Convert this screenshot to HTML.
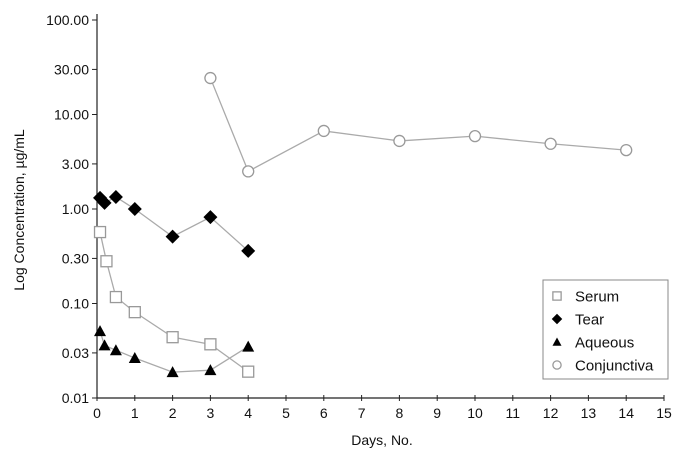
<!DOCTYPE html>
<html><head><meta charset="utf-8"><style>
body{margin:0;background:#fff;}
svg text{font-family:"Liberation Sans",Arial,sans-serif;fill:#111;}
svg text.lg{font-family:"Liberation Sans Narrow","Liberation Sans",Arial,sans-serif;}
</style></head><body>
<svg id="chart" width="682" height="462" viewBox="0 0 682 462" xmlns="http://www.w3.org/2000/svg"></svg>
<script>
const xTicks=[0,1,2,3,4,5,6,7,8,9,10,11,12,13,14,15];
const yTicks=[100,30,10,3,1,0.3,0.1,0.03,0.01];
const yTickLabels=["100.00","30.00","10.00","3.00","1.00","0.30","0.10","0.03","0.01"];
const serumX=[0.08,0.25,0.5,1,2,3,4];
const serumY=[0.57,0.28,0.117,0.081,0.044,0.037,0.019];
const tearX=[0.08,0.2,0.5,1,2,3,4];
const tearY=[1.31,1.16,1.34,1.0,0.51,0.82,0.36];
const aqueousX=[0.08,0.2,0.5,1,2,3,4];
const aqueousY=[0.051,0.036,0.032,0.0265,0.0188,0.0197,0.035];
const conjX=[3,4,6,8,10,12,14];
const conjY=[24.3,2.5,6.7,5.25,5.9,4.9,4.2];
const legendLabels=["Serum","Tear","Aqueous","Conjunctiva"];

const svg=document.getElementById('chart');
const NS='http://www.w3.org/2000/svg';
const X0=97,XS=37.8,YB=398,YD=94.5;
function sx(v){return X0+v*XS;}
function sy(v){return YB-YD*(Math.log10(v)+2);}
function mk(tag,attrs,parent){const e=document.createElementNS(NS,tag);for(const k in attrs)e.setAttribute(k,attrs[k]);(parent||svg).appendChild(e);return e;}

const ax=mk('path',{d:`M${X0} 14 V${YB} H${sx(15)}`,stroke:'#222','stroke-width':1.2,fill:'none'});


xTicks.forEach(t=>{
  const l=mk('line',{x1:sx(t),x2:sx(t),y1:YB-3,y2:YB+3,stroke:'#222'});
  
  
  const tx=mk('text',{x:sx(t),y:YB+20,'text-anchor':'middle','font-size':14});
  tx.textContent=t;
  
  
});
yTicks.forEach((t,i)=>{
  const l=mk('line',{x1:X0-5,x2:X0,y1:sy(t),y2:sy(t),stroke:'#222'});
  
  
  const tx=mk('text',{x:X0-8,y:sy(t)+5,'text-anchor':'end','font-size':14});
  tx.textContent=yTickLabels[i];
  
  
});
const xt=mk('text',{x:382,y:445,'text-anchor':'middle','font-size':14});
xt.textContent='Days, No.';


const yt=mk('text',{x:0,y:0,'text-anchor':'middle','font-size':14,transform:'translate(24,210) rotate(-90)'});
yt.textContent='Log Concentration, µg/mL';



function marker(kind,x,y,g,s){
  s=s||1;
  if(kind==='sq')return mk('rect',{x:x-5.5*s,y:y-5.5*s,width:11*s,height:11*s,fill:'#fff',stroke:'#999','stroke-width':1.3},g);
  if(kind==='dia')return mk('path',{d:`M${x} ${y-7*s} L${x+7*s} ${y} L${x} ${y+7*s} L${x-7*s} ${y}Z`,fill:'#000'},g);
  if(kind==='tri')return mk('path',{d:`M${x} ${y-6*s} L${x+6*s} ${y+5*s} L${x-6*s} ${y+5*s}Z`,fill:'#000'},g);
  return mk('circle',{cx:x,cy:y,r:5.5*s,fill:'#fff',stroke:'#999','stroke-width':1.3},g);
}
function series(name,xs,ys,kind){
  const g=mk('g',{});
  
  
  const p=mk('polyline',{points:xs.map((x,i)=>sx(x)+','+sy(ys[i])).join(' '),fill:'none',stroke:'#aaa','stroke-width':1.3},g);
  
  
  xs.forEach((x,i)=>{
    const m=marker(kind,sx(x),sy(ys[i]),g);
    
    
  });
}
series('serum',serumX,serumY,'sq');
series('tear',tearX,tearY,'dia');
series('aqueous',aqueousX,aqueousY,'tri');
series('conjunctiva',conjX,conjY,'circ');

const lg=mk('g',{});


const lb=mk('rect',{x:543,y:280,width:125,height:99,fill:'#fff',stroke:'#888','stroke-width':1},lg);


const kinds=['sq','dia','tri','circ'];
legendLabels.forEach((t,i)=>{
  const y=296+i*23;
  const m=marker(kinds[i],557,y,lg,0.75);
  
  
  const tx=mk('text',{x:575,y:y+5.5,'font-size':15,'class':'lg'},lg);
  tx.textContent=t;
  
  
});
</script>
</body></html>
